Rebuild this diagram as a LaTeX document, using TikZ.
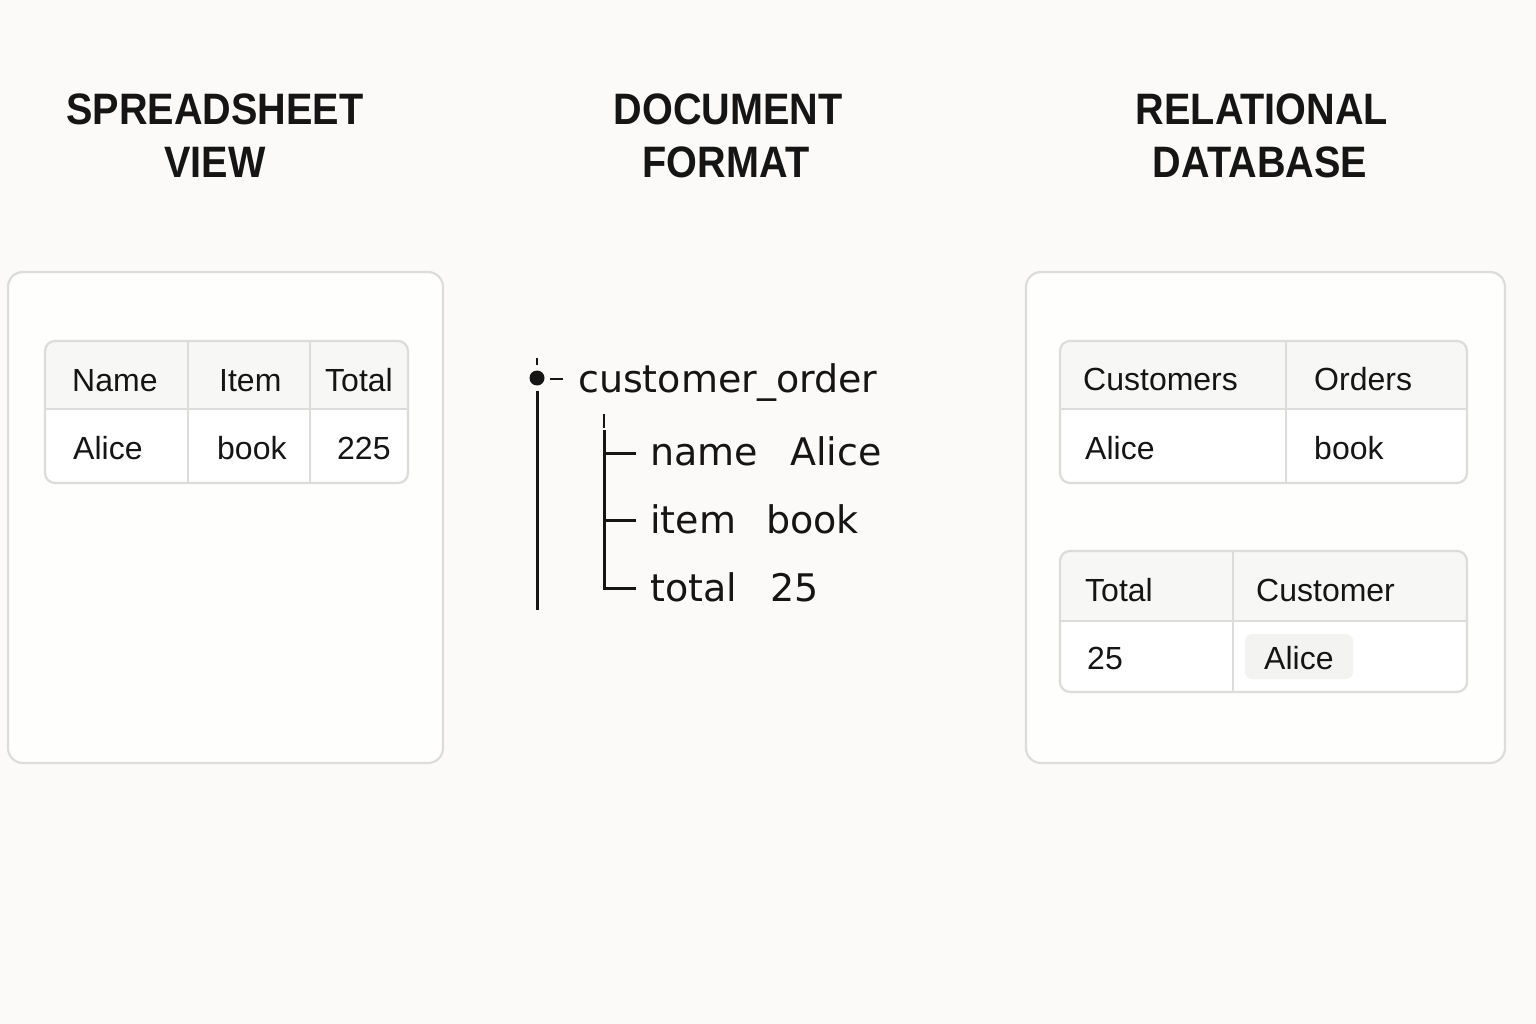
\documentclass[tikz,border=0pt]{standalone}
\usepackage{fontspec}
\setmainfont{Liberation Sans}
\newfontfamily\titlefont[FakeStretch=0.9]{Liberation Sans}
\newfontfamily\treefont{DejaVu Sans}
\definecolor{bg}{HTML}{FBFAF8}
\definecolor{panel}{HTML}{FEFEFD}
\definecolor{edge}{HTML}{DCDCDA}
\definecolor{hdr}{HTML}{F7F7F5}
\definecolor{ink}{HTML}{151515}
\definecolor{hl}{HTML}{F3F3F1}
\tikzset{
  title/.style={anchor=base,inner sep=0pt,text=ink,font=\titlefont\bfseries\fontsize{44}{50}\selectfont},
  cell/.style={anchor=base west,inner sep=0pt,text=ink,font=\fontsize{32}{36}\selectfont},
  tree/.style={anchor=base west,inner sep=0pt,text=ink,font=\treefont\fontsize{38}{44}\selectfont},
  panelbox/.style={draw=edge,line width=2.2pt,fill=panel,rounded corners=15pt},
  tablebox/.style={draw=edge,line width=2.2pt,rounded corners=10pt},
  grid/.style={draw=edge,line width=2.2pt},
  branch/.style={draw=ink,line width=3pt}
}
\begin{document}
\begin{tikzpicture}[x=1pt,y=-1pt]
\fill[bg] (0,0) rectangle (1536,1024);
\useasboundingbox (0,0) rectangle (1536,1024);

% titles
\node[title] (t1a) at (215,125) {SPREADSHEET};
\node[title] (t1b) at (215,178) {VIEW};
\node[title] (t2a) at (728,125) {DOCUMENT};
\node[title] (t2b) at (726,178) {FORMAT};
\node[title] (t3a) at (1262,125) {RELATIONAL};
\node[title] (t3b) at (1260,178) {DATABASE};

% panels
\path[panelbox] (8,272) rectangle (443,763);
\path[panelbox] (1026,272) rectangle (1505,763);

% spreadsheet table
\fill[white,rounded corners=10pt] (45,341) rectangle (408,483);
\begin{scope}
\clip[rounded corners=10pt] (45,341) rectangle (408,483);
\fill[hdr] (45,341) rectangle (408,409);
\end{scope}
\path[tablebox] (45,341) rectangle (408,483);
\path[grid] (45,409) -- (408,409) (188,341) -- (188,483) (310,341) -- (310,483);
\node[cell] (sName) at (72,391) {Name};
\node[cell] (sItem) at (219,391) {Item};
\node[cell] (sTotal) at (325,391) {Total};
\node[cell] (sAlice) at (73,459) {Alice};
\node[cell] (sBook) at (217,459) {book};
\node[cell] (s225) at (337,459) {225};

% document tree
\fill[ink] (537,378) circle (7.5pt);
\path[branch,line width=2.4pt] (537,358) -- (537,365);
\path[branch,line width=2.6pt] (550,379) -- (563,379);
\path[branch] (537,391) -- (537,610);
\node[tree] (root) at (578,392) {customer\_order};
\path[branch,line width=2.6pt] (604,414) -- (604,428);
\coordinate (v0) at (604,430);
\coordinate (b1) at (636,453);
\coordinate (b2) at (636,520);
\coordinate (b3) at (636,588);
\path[branch] (v0) -- (604,588) -- (b3);
\path[branch] (604,453) -- (b1);
\path[branch] (604,520) -- (b2);
\node[tree] (kname) at (650,465) {name};
\node[tree] (vname) at (790,465) {Alice};
\node[tree] (kitem) at (650,533) {item};
\node[tree] (vitem) at (766,533) {book};
\node[tree] (ktotal) at (650,601) {total};
\node[tree] (vtotal) at (770,601) {25};

% relational table 1
\fill[white,rounded corners=10pt] (1060,341) rectangle (1467,483);
\begin{scope}
\clip[rounded corners=10pt] (1060,341) rectangle (1467,483);
\fill[hdr] (1060,341) rectangle (1467,409);
\end{scope}
\path[tablebox] (1060,341) rectangle (1467,483);
\path[grid] (1060,409) -- (1467,409) (1286,341) -- (1286,483);
\node[cell] (rCust) at (1083,390) {Customers};
\node[cell] (rOrd) at (1314,390) {Orders};
\node[cell] (rAlice) at (1085,459) {Alice};
\node[cell] (rBook) at (1314,459) {book};

% relational table 2
\fill[white,rounded corners=10pt] (1060,551) rectangle (1467,692);
\begin{scope}
\clip[rounded corners=10pt] (1060,551) rectangle (1467,692);
\fill[hdr] (1060,551) rectangle (1467,621);
\end{scope}
\path[tablebox] (1060,551) rectangle (1467,692);
\path[grid] (1060,621) -- (1467,621) (1233,551) -- (1233,692);
\fill[hl,rounded corners=7pt] (1245,634) rectangle (1353,679);
\node[cell] (rTotal) at (1085,601) {Total};
\node[cell] (rCustomer) at (1256,601) {Customer};
\node[cell] (r25) at (1087,669) {25};
\node[cell] (rAlice2) at (1264,669) {Alice};
\end{tikzpicture}
\end{document}
